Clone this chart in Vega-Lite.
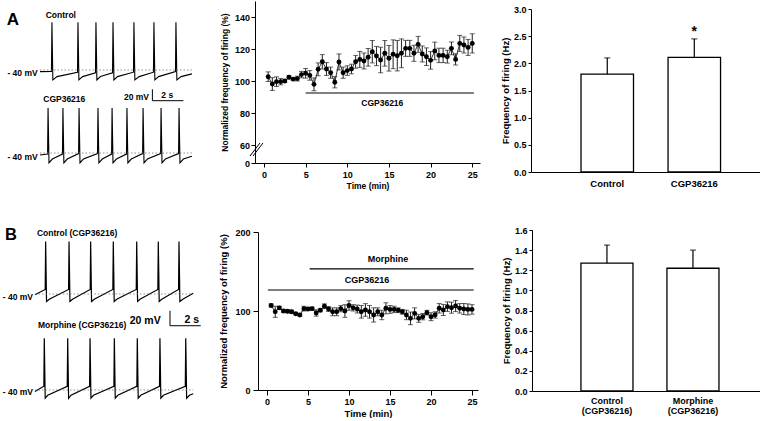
{
  "$schema": "https://vega.github.io/schema/vega-lite/v6.json",
  "background": "white",
  "padding": {"left": 0, "top": 1, "right": 0, "bottom": 0},
  "spacing": 36,
  "config": {
    "view": {"stroke": null},
    "font": "Liberation Sans",
    "axis": {"labelFont": "Liberation Sans", "labelFontWeight": "bold", "titleFont": "Liberation Sans", "titleFontWeight": "bold", "labelColor": "black", "titleColor": "black", "domainColor": "black", "tickColor": "black", "grid": false, "labelFontSize": 9, "titleFontSize": 9, "domainWidth": 1, "tickWidth": 1, "labelOverlap": false, "labelFlush": false},
    "text": {"font": "Liberation Sans", "fontWeight": "bold", "color": "black"}
  },
  "datasets": {
    "trA_ctl": [
      {"t": 0, "v": -43}, {"t": 0.74, "v": -42.5}, {"t": 0.77, "v": 47}, {"t": 0.83, "v": -58}, {"t": 1.1, "v": -52},
      {"t": 2.42, "v": -44}, {"t": 2.45, "v": 47}, {"t": 2.51, "v": -58}, {"t": 2.75, "v": -52},
      {"t": 3.58, "v": -45}, {"t": 3.61, "v": 47}, {"t": 3.67, "v": -58}, {"t": 3.9, "v": -52},
      {"t": 4.68, "v": -45}, {"t": 4.71, "v": 47}, {"t": 4.77, "v": -58}, {"t": 5.0, "v": -52},
      {"t": 6.03, "v": -44}, {"t": 6.06, "v": 47}, {"t": 6.12, "v": -58}, {"t": 6.4, "v": -52},
      {"t": 7.32, "v": -44}, {"t": 7.35, "v": 47}, {"t": 7.41, "v": -58}, {"t": 7.65, "v": -52},
      {"t": 8.74, "v": -43}, {"t": 8.77, "v": 47}, {"t": 8.83, "v": -58}, {"t": 9.1, "v": -52},
      {"t": 9.8, "v": -47}
    ],
    "trA_cgp": [
      {"t": 0, "v": -43.5}, {"t": 0.49, "v": -42}, {"t": 0.52, "v": 42}, {"t": 0.58, "v": -58}, {"t": 0.8, "v": -51},
      {"t": 1.45, "v": -42}, {"t": 1.48, "v": 42}, {"t": 1.54, "v": -58}, {"t": 1.76, "v": -51},
      {"t": 2.49, "v": -41}, {"t": 2.52, "v": 42}, {"t": 2.58, "v": -58}, {"t": 2.8, "v": -51},
      {"t": 3.71, "v": -41}, {"t": 3.74, "v": 42}, {"t": 3.8, "v": -58}, {"t": 4.02, "v": -51},
      {"t": 4.62, "v": -42}, {"t": 4.65, "v": 42}, {"t": 4.71, "v": -58}, {"t": 4.93, "v": -51},
      {"t": 5.58, "v": -42}, {"t": 5.61, "v": 42}, {"t": 5.67, "v": -58}, {"t": 5.89, "v": -51},
      {"t": 6.62, "v": -41}, {"t": 6.65, "v": 42}, {"t": 6.71, "v": -58}, {"t": 6.93, "v": -51},
      {"t": 7.78, "v": -41}, {"t": 7.81, "v": 42}, {"t": 7.87, "v": -58}, {"t": 8.09, "v": -51},
      {"t": 8.94, "v": -41}, {"t": 8.97, "v": 42}, {"t": 9.03, "v": -58}, {"t": 9.25, "v": -51},
      {"t": 9.8, "v": -46}
    ],
    "trB_ctl": [
      {"t": 0, "v": -41}, {"t": 0.68, "v": -34}, {"t": 0.71, "v": 30}, {"t": 0.77, "v": -50}, {"t": 0.95, "v": -47},
      {"t": 2.24, "v": -34}, {"t": 2.27, "v": 30}, {"t": 2.33, "v": -50}, {"t": 2.5, "v": -47},
      {"t": 3.68, "v": -34}, {"t": 3.71, "v": 30}, {"t": 3.77, "v": -50}, {"t": 3.95, "v": -47},
      {"t": 5.19, "v": -34}, {"t": 5.22, "v": 30}, {"t": 5.28, "v": -50}, {"t": 5.45, "v": -47},
      {"t": 6.75, "v": -34}, {"t": 6.78, "v": 30}, {"t": 6.84, "v": -50}, {"t": 7.0, "v": -47},
      {"t": 8.19, "v": -34}, {"t": 8.22, "v": 30}, {"t": 8.28, "v": -50}, {"t": 8.45, "v": -47},
      {"t": 9.57, "v": -34}, {"t": 9.6, "v": 30}, {"t": 9.66, "v": -50}, {"t": 9.85, "v": -47},
      {"t": 10.55, "v": -39}
    ],
    "trB_mor": [
      {"t": 0, "v": -42}, {"t": 0.59, "v": -35}, {"t": 0.62, "v": 29}, {"t": 0.68, "v": -51}, {"t": 0.85, "v": -47},
      {"t": 2.15, "v": -35}, {"t": 2.18, "v": 29}, {"t": 2.24, "v": -51}, {"t": 2.4, "v": -47},
      {"t": 3.64, "v": -35}, {"t": 3.67, "v": 29}, {"t": 3.73, "v": -51}, {"t": 3.9, "v": -47},
      {"t": 5.26, "v": -35}, {"t": 5.29, "v": 29}, {"t": 5.35, "v": -51}, {"t": 5.52, "v": -47},
      {"t": 6.79, "v": -35}, {"t": 6.82, "v": 29}, {"t": 6.88, "v": -51}, {"t": 7.05, "v": -47},
      {"t": 8.3, "v": -35}, {"t": 8.33, "v": 29}, {"t": 8.39, "v": -51}, {"t": 8.56, "v": -47},
      {"t": 10.02, "v": -35}, {"t": 10.05, "v": 29}, {"t": 10.11, "v": -51}, {"t": 10.3, "v": -47},
      {"t": 10.55, "v": -45}
    ],
    "timeA": [
      {"t": 0.5, "v": 102.7, "e": 3}, {"t": 1.0, "v": 98.1, "e": 4}, {"t": 1.5, "v": 99.6, "e": 3}, {"t": 2.0, "v": 99.6, "e": 2},
      {"t": 2.5, "v": 100, "e": 1}, {"t": 3.0, "v": 102.3, "e": 1}, {"t": 3.5, "v": 101.2, "e": 1}, {"t": 4.0, "v": 101.5, "e": 1.5},
      {"t": 4.5, "v": 104, "e": 2}, {"t": 5.0, "v": 104.8, "e": 3}, {"t": 5.5, "v": 103.5, "e": 3}, {"t": 6.0, "v": 97.9, "e": 4},
      {"t": 6.5, "v": 107.3, "e": 4}, {"t": 7.0, "v": 112, "e": 4.5}, {"t": 7.5, "v": 107.5, "e": 4}, {"t": 8.0, "v": 105.2, "e": 3.5},
      {"t": 8.5, "v": 99.2, "e": 3.5}, {"t": 9.0, "v": 111.9, "e": 5}, {"t": 9.5, "v": 105.2, "e": 3.5}, {"t": 10, "v": 106.5, "e": 3},
      {"t": 10.5, "v": 107.5, "e": 3}, {"t": 11, "v": 112, "e": 4}, {"t": 11.5, "v": 113.5, "e": 5}, {"t": 12, "v": 112.5, "e": 5},
      {"t": 12.5, "v": 114.8, "e": 5.5}, {"t": 13, "v": 118.3, "e": 7}, {"t": 13.5, "v": 115.6, "e": 6}, {"t": 14, "v": 113.1, "e": 8},
      {"t": 14.5, "v": 117.3, "e": 8}, {"t": 15, "v": 114.2, "e": 8}, {"t": 15.5, "v": 116.7, "e": 9}, {"t": 16, "v": 115.8, "e": 9.5},
      {"t": 16.5, "v": 117.3, "e": 9}, {"t": 17, "v": 120.4, "e": 5}, {"t": 17.5, "v": 120.4, "e": 5}, {"t": 18, "v": 117.3, "e": 5},
      {"t": 18.5, "v": 122.9, "e": 5}, {"t": 19, "v": 116.9, "e": 5}, {"t": 19.5, "v": 115.2, "e": 5.5}, {"t": 20, "v": 112.9, "e": 5.5},
      {"t": 20.5, "v": 118.8, "e": 5.5}, {"t": 21, "v": 116, "e": 4.5}, {"t": 21.5, "v": 116, "e": 4.5}, {"t": 22, "v": 115.2, "e": 4},
      {"t": 22.5, "v": 120.4, "e": 4}, {"t": 23, "v": 113.5, "e": 3.5}, {"t": 23.5, "v": 123.5, "e": 5}, {"t": 24, "v": 122.5, "e": 5},
      {"t": 24.5, "v": 121, "e": 5}, {"t": 25, "v": 123.5, "e": 6}
    ],
    "timeB": [
      {"t": 0.5, "v": 107, "e": 2}, {"t": 1.0, "v": 99, "e": 7}, {"t": 1.5, "v": 104, "e": 2}, {"t": 2.0, "v": 100, "e": 2},
      {"t": 2.5, "v": 99.6, "e": 2}, {"t": 3.0, "v": 99, "e": 2}, {"t": 3.5, "v": 96.6, "e": 1.5}, {"t": 4.0, "v": 95, "e": 1.5},
      {"t": 4.5, "v": 103, "e": 3}, {"t": 5.0, "v": 102.5, "e": 2}, {"t": 5.5, "v": 103, "e": 2}, {"t": 6.0, "v": 97.5, "e": 4},
      {"t": 6.5, "v": 101, "e": 2}, {"t": 7.0, "v": 106, "e": 3}, {"t": 7.5, "v": 102.5, "e": 3}, {"t": 8.0, "v": 99, "e": 5},
      {"t": 8.5, "v": 99, "e": 5}, {"t": 9.0, "v": 103, "e": 4}, {"t": 9.5, "v": 100, "e": 8}, {"t": 10, "v": 107, "e": 6},
      {"t": 10.5, "v": 104, "e": 4}, {"t": 11, "v": 102.5, "e": 5}, {"t": 11.5, "v": 99, "e": 8}, {"t": 12, "v": 101.3, "e": 8},
      {"t": 12.5, "v": 99, "e": 8}, {"t": 13, "v": 95, "e": 9}, {"t": 13.5, "v": 99, "e": 5}, {"t": 14, "v": 95, "e": 6},
      {"t": 14.5, "v": 103.4, "e": 7}, {"t": 15, "v": 102, "e": 5}, {"t": 15.5, "v": 102, "e": 4}, {"t": 16, "v": 101, "e": 3},
      {"t": 16.5, "v": 99, "e": 3}, {"t": 17, "v": 95, "e": 6}, {"t": 17.5, "v": 90.7, "e": 8}, {"t": 18, "v": 97, "e": 7},
      {"t": 18.5, "v": 90.7, "e": 5}, {"t": 19, "v": 92.8, "e": 4}, {"t": 19.5, "v": 97.9, "e": 3}, {"t": 20, "v": 92.8, "e": 5},
      {"t": 20.5, "v": 95, "e": 4}, {"t": 21, "v": 103.4, "e": 6}, {"t": 21.5, "v": 101.3, "e": 7}, {"t": 22, "v": 105.5, "e": 6},
      {"t": 22.5, "v": 104.2, "e": 7}, {"t": 23, "v": 106.3, "e": 7}, {"t": 23.5, "v": 103.4, "e": 6}, {"t": 24, "v": 102.5, "e": 7},
      {"t": 24.5, "v": 102, "e": 7}, {"t": 25, "v": 102, "e": 6}
    ],
    "barA": [
      {"cond": "Control", "mean": 1.8, "se": 0.3},
      {"cond": "CGP36216", "mean": 2.11, "se": 0.34}
    ],
    "barB": [
      {"cond": "Control (CGP36216)", "mean": 1.27, "se": 0.18},
      {"cond": "Morphine (CGP36216)", "mean": 1.22, "se": 0.18}
    ],
    "breakA": [
      {"x1": -1.68, "y1": 23.3, "x2": -0.48, "y2": 61.25},
      {"x1": -1.32, "y1": 23.3, "x2": -0.12, "y2": 61.25}
    ]
  },
  "vconcat": [
    {
      "hconcat": [
        {
          "width": 204, "height": 171,
          "layer": [
            {
              "layer": [
                {"data": {"name": "trA_ctl"}, "mark": {"type": "line", "color": "black", "strokeWidth": 1.1},
                 "encoding": {"x": {"field": "t", "type": "quantitative", "scale": {"domain": [-2.58, 10.58], "nice": false, "zero": false}, "axis": null},
                              "y": {"field": "v", "type": "quantitative", "scale": {"domain": [-225.45, 85.45], "nice": false, "zero": false}, "axis": null}}},
                {"data": {"values": [{}]}, "mark": {"type": "rule", "color": "#777", "strokeDash": [1.5, 2], "strokeWidth": 0.8},
                 "encoding": {"x": {"datum": 0, "type": "quantitative"}, "x2": {"datum": 9.8}, "y": {"datum": -40, "type": "quantitative"}}},
                {"data": {"values": [{}]}, "mark": {"type": "rule", "color": "black", "strokeWidth": 1},
                 "encoding": {"x": {"datum": 7.25, "type": "quantitative"}, "y": {"datum": -75.1, "type": "quantitative"}, "y2": {"datum": -95.8}}},
                {"data": {"values": [{}]}, "mark": {"type": "rule", "color": "black", "strokeWidth": 1},
                 "encoding": {"x": {"datum": 7.25, "type": "quantitative"}, "x2": {"datum": 9.25}, "y": {"datum": -95.8, "type": "quantitative"}}},
                {"data": {"values": [{}]}, "mark": {"type": "text", "text": "A", "fontSize": 17, "align": "left", "baseline": "middle"},
                 "encoding": {"x": {"datum": -2.15, "type": "quantitative"}, "y": {"datum": 50, "type": "quantitative"}}},
                {"data": {"values": [{}]}, "mark": {"type": "text", "text": "Control", "fontSize": 8.5, "align": "left", "baseline": "middle"},
                 "encoding": {"x": {"datum": 0.37, "type": "quantitative"}, "y": {"datum": 59.5, "type": "quantitative"}}},
                {"data": {"values": [{}]}, "mark": {"type": "text", "text": "- 40 mV", "fontSize": 8.5, "align": "right", "baseline": "middle"},
                 "encoding": {"x": {"datum": -0.15, "type": "quantitative"}, "y": {"datum": -44.9, "type": "quantitative"}}},
                {"data": {"values": [{}]}, "mark": {"type": "text", "text": "20 mV", "fontSize": 8.5, "align": "right", "baseline": "middle"},
                 "encoding": {"x": {"datum": 7.03, "type": "quantitative"}, "y": {"datum": -88.5, "type": "quantitative"}}},
                {"data": {"values": [{}]}, "mark": {"type": "text", "text": "2 s", "fontSize": 8.5, "align": "center", "baseline": "middle"},
                 "encoding": {"x": {"datum": 8.21, "type": "quantitative"}, "y": {"datum": -85.5, "type": "quantitative"}}}
              ]
            },
            {
              "layer": [
                {"data": {"name": "trA_cgp"}, "mark": {"type": "line", "color": "black", "strokeWidth": 1.1},
                 "encoding": {"x": {"field": "t", "type": "quantitative"},
                              "y": {"field": "v", "type": "quantitative", "scale": {"domain": [-74.55, 236.36], "nice": false, "zero": false}, "axis": null}}},
                {"data": {"values": [{}]}, "mark": {"type": "rule", "color": "#777", "strokeDash": [1.5, 2], "strokeWidth": 0.8},
                 "encoding": {"x": {"datum": 0, "type": "quantitative"}, "x2": {"datum": 9.8}, "y": {"datum": -40, "type": "quantitative"}}},
                {"data": {"values": [{}]}, "mark": {"type": "text", "text": "CGP36216", "fontSize": 8.5, "align": "left", "baseline": "middle"},
                 "encoding": {"x": {"datum": 0.21, "type": "quantitative"}, "y": {"datum": 58.7, "type": "quantitative"}}},
                {"data": {"values": [{}]}, "mark": {"type": "text", "text": "- 40 mV", "fontSize": 8.5, "align": "right", "baseline": "middle"},
                 "encoding": {"x": {"datum": -0.15, "type": "quantitative"}, "y": {"datum": -46.7, "type": "quantitative"}}}
              ]
            }
          ],
          "resolve": {"scale": {"y": "independent"}}
        },
        {
          "width": 225, "height": 162,
          "layer": [
            {"data": {"name": "timeA"}, "mark": {"type": "errorbar", "color": "#222", "ticks": {"size": 5}},
             "encoding": {"x": {"field": "t", "type": "quantitative", "scale": {"domain": [-1.08, 25.93], "nice": false, "zero": false},
                                "axis": {"values": [0, 5, 10, 15, 20, 25], "title": "Time (min)", "tickSize": 4, "labelPadding": 3, "titlePadding": 2, "titleFontSize": 8.5}},
                          "y": {"field": "v", "type": "quantitative", "scale": {"type": "linear", "domain": [0, 60, 150], "range": [162, 144, 0], "nice": false, "zero": false},
                                "axis": {"values": [0, 60, 80, 100, 120, 140], "title": "Normalized frequency of firing (%)", "tickSize": 4, "labelPadding": 1.5, "titlePadding": 5, "titleFontSize": 8.5}},
                          "yError": {"field": "e"}}},
            {"data": {"name": "timeA"}, "mark": {"type": "line", "color": "black", "strokeWidth": 0.8},
             "encoding": {"x": {"field": "t", "type": "quantitative"},
                          "y": {"field": "v", "type": "quantitative", "axis": {"values": [0, 60, 80, 100, 120, 140], "title": "Normalized frequency of firing (%)", "tickSize": 4, "labelPadding": 1.5, "titlePadding": 5, "titleFontSize": 8.5}}}},
            {"data": {"name": "timeA"}, "mark": {"type": "circle", "color": "black", "opacity": 1, "size": 24},
             "encoding": {"x": {"field": "t", "type": "quantitative"},
                          "y": {"field": "v", "type": "quantitative", "axis": {"values": [0, 60, 80, 100, 120, 140], "title": "Normalized frequency of firing (%)", "tickSize": 4, "labelPadding": 1.5, "titlePadding": 5, "titleFontSize": 8.5}}}},
            {"data": {"values": [{}]}, "mark": {"type": "rule", "color": "black", "strokeWidth": 1.2},
             "encoding": {"x": {"datum": 5.0, "type": "quantitative"}, "x2": {"datum": 25.2},
                          "y": {"datum": 92.5, "type": "quantitative", "axis": {"values": [0, 60, 80, 100, 120, 140], "title": "Normalized frequency of firing (%)", "tickSize": 4, "labelPadding": 1.5, "titlePadding": 5, "titleFontSize": 8.5}}}},
            {"data": {"values": [{}]}, "mark": {"type": "text", "text": "CGP36216", "fontSize": 8.5, "align": "center", "baseline": "middle"},
             "encoding": {"x": {"datum": 14.2, "type": "quantitative"},
                          "y": {"datum": 86.3, "type": "quantitative", "axis": {"values": [0, 60, 80, 100, 120, 140], "title": "Normalized frequency of firing (%)", "tickSize": 4, "labelPadding": 1.5, "titlePadding": 5, "titleFontSize": 8.5}}}},
            {"data": {"name": "breakA"}, "mark": {"type": "rule", "color": "black", "strokeWidth": 1},
             "encoding": {"x": {"field": "x1", "type": "quantitative"}, "x2": {"field": "x2"},
                          "y": {"field": "y1", "type": "quantitative", "axis": {"values": [0, 60, 80, 100, 120, 140], "title": "Normalized frequency of firing (%)", "tickSize": 4, "labelPadding": 1.5, "titlePadding": 5, "titleFontSize": 8.5}}, "y2": {"field": "y2"}}}
          ]
        },
        {
          "width": 229, "height": 171,
          "layer": [
            {"data": {"name": "barA"}, "mark": {"type": "errorbar", "color": "black", "ticks": {"size": 6}, "thickness": 1.2},
             "encoding": {"x": {"field": "cond", "type": "nominal", "sort": null, "scale": {"paddingInner": 0.397, "paddingOuter": 0.514, "align": 0.559},
                                "axis": {"title": null, "ticks": false, "labelAngle": 0, "labelPadding": 6, "labelFontSize": 9.5}},
                          "y": {"field": "mean", "type": "quantitative", "scale": {"domain": [0, 3], "range": [171, 8], "nice": false, "zero": false},
                                "axis": {"values": [0, 0.5, 1, 1.5, 2, 2.5, 3], "format": ".1f", "title": "Frequency of firing (Hz)", "tickSize": 3, "labelPadding": 2, "titlePadding": 3, "titleFontSize": 9.5}},
                          "yError": {"field": "se"}}},
            {"data": {"name": "barA"}, "mark": {"type": "bar", "fill": "white", "stroke": "black", "strokeWidth": 1.3},
             "encoding": {"x": {"field": "cond", "type": "nominal", "sort": null, "scale": {"paddingInner": 0.397, "paddingOuter": 0.514, "align": 0.559},
                                "axis": {"title": null, "ticks": false, "labelAngle": 0, "labelPadding": 6, "labelFontSize": 9.5}},
                          "y": {"field": "mean", "type": "quantitative", "scale": {"domain": [0, 3], "range": [171, 8], "nice": false, "zero": false},
                                "axis": {"values": [0, 0.5, 1, 1.5, 2, 2.5, 3], "format": ".1f", "title": "Frequency of firing (Hz)", "tickSize": 3, "labelPadding": 2, "titlePadding": 3, "titleFontSize": 9.5}}}},
            {"data": {"values": [{}]}, "mark": {"type": "text", "text": "*", "fontSize": 14, "align": "center", "baseline": "middle"},
             "encoding": {"x": {"datum": "CGP36216", "type": "nominal", "axis": {"title": null, "ticks": false, "labelAngle": 0, "labelPadding": 6, "labelFontSize": 9.5}},
                          "y": {"datum": 2.58, "type": "quantitative", "axis": {"values": [0, 0.5, 1, 1.5, 2, 2.5, 3], "format": ".1f", "title": "Frequency of firing (Hz)", "tickSize": 3, "labelPadding": 2, "titlePadding": 3, "titleFontSize": 9.5}}}}
          ]
        }
      ],
      "spacing": 51,
      "bounds": "flush"
    },
    {
      "hconcat": [
        {
          "width": 204, "height": 175,
          "layer": [
            {
              "layer": [
                {"data": {"name": "trB_ctl"}, "mark": {"type": "line", "color": "black", "strokeWidth": 1.2},
                 "encoding": {"x": {"field": "t", "type": "quantitative", "scale": {"domain": [-2.333, 11.267], "nice": false, "zero": false}, "axis": null},
                              "y": {"field": "v", "type": "quantitative", "scale": {"domain": [-188, 45.33], "nice": false, "zero": false}, "axis": null}}},
                {"data": {"values": [{}]}, "mark": {"type": "rule", "color": "#777", "strokeDash": [1.5, 2], "strokeWidth": 0.8},
                 "encoding": {"x": {"datum": 0, "type": "quantitative"}, "x2": {"datum": 10.55}, "y": {"datum": -40, "type": "quantitative"}}},
                {"data": {"values": [{}]}, "mark": {"type": "rule", "color": "black", "strokeWidth": 1},
                 "encoding": {"x": {"datum": 9.0, "type": "quantitative"}, "y": {"datum": -62.3, "type": "quantitative"}, "y2": {"datum": -82.3}}},
                {"data": {"values": [{}]}, "mark": {"type": "rule", "color": "black", "strokeWidth": 1},
                 "encoding": {"x": {"datum": 9.0, "type": "quantitative"}, "x2": {"datum": 11.05}, "y": {"datum": -82.3, "type": "quantitative"}}},
                {"data": {"values": [{}]}, "mark": {"type": "text", "text": "B", "fontSize": 16.5, "align": "left", "baseline": "middle"},
                 "encoding": {"x": {"datum": -2.0, "type": "quantitative"}, "y": {"datum": 38.7, "type": "quantitative"}}},
                {"data": {"values": [{}]}, "mark": {"type": "text", "text": "Control (CGP36216)", "fontSize": 8.5, "align": "left", "baseline": "middle"},
                 "encoding": {"x": {"datum": 0.13, "type": "quantitative"}, "y": {"datum": 41.3, "type": "quantitative"}}},
                {"data": {"values": [{}]}, "mark": {"type": "text", "text": "- 40 mV", "fontSize": 8.5, "align": "right", "baseline": "middle"},
                 "encoding": {"x": {"datum": -0.13, "type": "quantitative"}, "y": {"datum": -44, "type": "quantitative"}}},
                {"data": {"values": [{}]}, "mark": {"type": "text", "text": "20 mV", "fontSize": 10.5, "align": "right", "baseline": "middle"},
                 "encoding": {"x": {"datum": 8.38, "type": "quantitative"}, "y": {"datum": -76.4, "type": "quantitative"}}},
                {"data": {"values": [{}]}, "mark": {"type": "text", "text": "2 s", "fontSize": 10.5, "align": "center", "baseline": "middle"},
                 "encoding": {"x": {"datum": 10.45, "type": "quantitative"}, "y": {"datum": -74.3, "type": "quantitative"}}}
              ]
            },
            {
              "layer": [
                {"data": {"name": "trB_mor"}, "mark": {"type": "line", "color": "black", "strokeWidth": 1.2},
                 "encoding": {"x": {"field": "t", "type": "quantitative"},
                              "y": {"field": "v", "type": "quantitative", "scale": {"domain": [-60, 173.33], "nice": false, "zero": false}, "axis": null}}},
                {"data": {"values": [{}]}, "mark": {"type": "rule", "color": "#777", "strokeDash": [1.5, 2], "strokeWidth": 0.8},
                 "encoding": {"x": {"datum": 0, "type": "quantitative"}, "x2": {"datum": 10.55}, "y": {"datum": -40, "type": "quantitative"}}},
                {"data": {"values": [{}]}, "mark": {"type": "text", "text": "Morphine (CGP36216)", "fontSize": 8.5, "align": "left", "baseline": "middle"},
                 "encoding": {"x": {"datum": 0.2, "type": "quantitative"}, "y": {"datum": 47.1, "type": "quantitative"}}},
                {"data": {"values": [{}]}, "mark": {"type": "text", "text": "- 40 mV", "fontSize": 8.5, "align": "right", "baseline": "middle"},
                 "encoding": {"x": {"datum": -0.13, "type": "quantitative"}, "y": {"datum": -43.1, "type": "quantitative"}}}
              ]
            }
          ],
          "resolve": {"scale": {"y": "independent"}}
        },
        {
          "width": 220, "height": 160,
          "layer": [
            {"data": {"name": "timeB"}, "mark": {"type": "errorbar", "color": "#222", "ticks": {"size": 5}},
             "encoding": {"x": {"field": "t", "type": "quantitative", "scale": {"domain": [-1.1, 25.73], "nice": false, "zero": false},
                                "axis": {"values": [0, 5, 10, 15, 20, 25], "title": "Time (min)", "tickSize": 5, "labelPadding": 2, "titlePadding": 2, "titleFontSize": 9.5}},
                          "y": {"field": "v", "type": "quantitative", "scale": {"domain": [0, 200], "range": [160, 2], "nice": false, "zero": false},
                                "axis": {"values": [0, 50, 100, 150, 200], "title": "Normalized frequency of firing (%)", "tickSize": 5, "labelPadding": 3, "titlePadding": 6, "titleFontSize": 9.5}},
                          "yError": {"field": "e"}}},
            {"data": {"name": "timeB"}, "mark": {"type": "line", "color": "black", "strokeWidth": 0.8},
             "encoding": {"x": {"field": "t", "type": "quantitative", "scale": {"domain": [-1.1, 25.73], "nice": false, "zero": false},
                                "axis": {"values": [0, 5, 10, 15, 20, 25], "title": "Time (min)", "tickSize": 5, "labelPadding": 2, "titlePadding": 2, "titleFontSize": 9.5}},
                          "y": {"field": "v", "type": "quantitative", "scale": {"domain": [0, 200], "range": [160, 2], "nice": false, "zero": false},
                                "axis": {"values": [0, 50, 100, 150, 200], "title": "Normalized frequency of firing (%)", "tickSize": 5, "labelPadding": 3, "titlePadding": 6, "titleFontSize": 9.5}}}},
            {"data": {"name": "timeB"}, "mark": {"type": "circle", "color": "black", "opacity": 1, "size": 24},
             "encoding": {"x": {"field": "t", "type": "quantitative"}, "y": {"field": "v", "type": "quantitative"}}},
            {"data": {"values": [{}]}, "mark": {"type": "rule", "color": "black", "strokeWidth": 1.2},
             "encoding": {"x": {"datum": 5.2, "type": "quantitative"}, "x2": {"datum": 25.2}, "y": {"datum": 153.2, "type": "quantitative"}}},
            {"data": {"values": [{}]}, "mark": {"type": "rule", "color": "black", "strokeWidth": 1.2},
             "encoding": {"x": {"datum": 0.1, "type": "quantitative"}, "x2": {"datum": 25.2}, "y": {"datum": 126.6, "type": "quantitative"}}},
            {"data": {"values": [{}]}, "mark": {"type": "text", "text": "Morphine", "fontSize": 9, "align": "center", "baseline": "middle"},
             "encoding": {"x": {"datum": 14.75, "type": "quantitative"}, "y": {"datum": 165.8, "type": "quantitative"}}},
            {"data": {"values": [{}]}, "mark": {"type": "text", "text": "CGP36216", "fontSize": 9, "align": "center", "baseline": "middle"},
             "encoding": {"x": {"datum": 12.2, "type": "quantitative"}, "y": {"datum": 139.2, "type": "quantitative"}}}
          ]
        },
        {
          "width": 228, "height": 161,
          "layer": [
            {"data": {"name": "barB"}, "mark": {"type": "errorbar", "color": "black", "ticks": {"size": 6}, "thickness": 1.2},
             "encoding": {"x": {"field": "cond", "type": "nominal", "sort": null, "scale": {"paddingInner": 0.395, "paddingOuter": 0.523, "align": 0.544},
                                "axis": {"title": null, "ticks": false, "labelAngle": 0, "labelPadding": 5, "labelFontSize": 9, "labelLineHeight": 10, "labelExpr": "split(datum.label, ' ')"}},
                          "y": {"field": "mean", "type": "quantitative", "scale": {"domain": [0, 1.6], "nice": false, "zero": false},
                                "axis": {"values": [0, 0.2, 0.4, 0.6, 0.8, 1.0, 1.2, 1.4, 1.6], "format": ".1f", "title": "Frequency of firing (Hz)", "tickSize": 3, "labelPadding": 2, "titlePadding": 3, "titleFontSize": 9.5}},
                          "yError": {"field": "se"}}},
            {"data": {"name": "barB"}, "mark": {"type": "bar", "fill": "white", "stroke": "black", "strokeWidth": 1.3},
             "encoding": {"x": {"field": "cond", "type": "nominal", "sort": null, "scale": {"paddingInner": 0.395, "paddingOuter": 0.523, "align": 0.544},
                                "axis": {"title": null, "ticks": false, "labelAngle": 0, "labelPadding": 5, "labelFontSize": 9, "labelLineHeight": 10, "labelExpr": "split(datum.label, ' ')"}},
                          "y": {"field": "mean", "type": "quantitative", "scale": {"domain": [0, 1.6], "nice": false, "zero": false},
                                "axis": {"values": [0, 0.2, 0.4, 0.6, 0.8, 1.0, 1.2, 1.4, 1.6], "format": ".1f", "title": "Frequency of firing (Hz)", "tickSize": 3, "labelPadding": 2, "titlePadding": 3, "titleFontSize": 9.5}}}}
          ]
        }
      ],
      "spacing": 54,
      "bounds": "flush"
    }
  ]
}
